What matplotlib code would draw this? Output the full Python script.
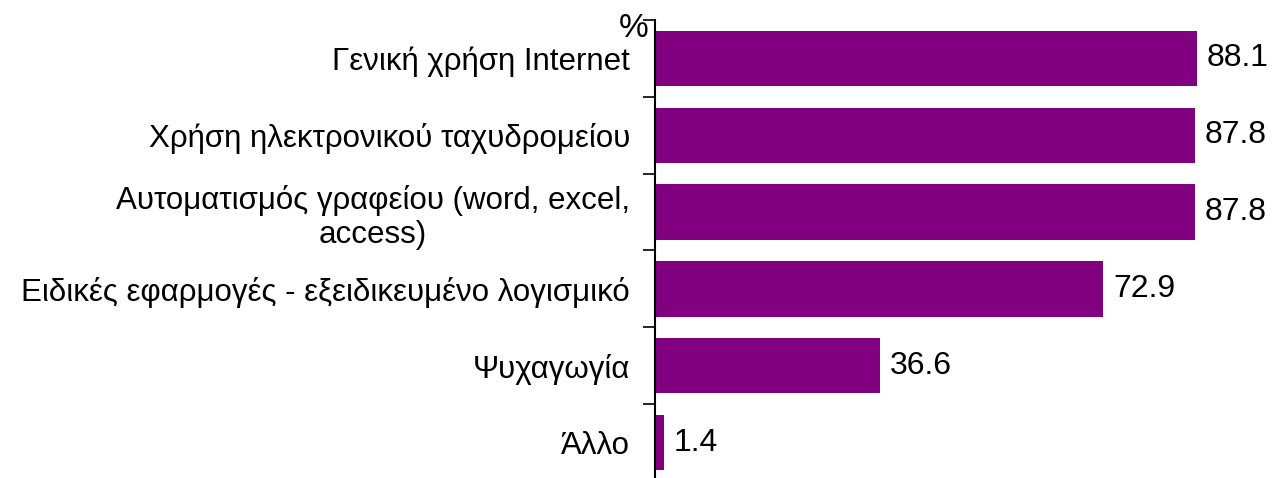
import matplotlib
matplotlib.use("Agg")
import matplotlib.pyplot as plt
import numpy as np

categories = [
    "Γενική χρήση Internet",
    "Χρήση ηλεκτρονικού ταχυδρομείου",
    "Αυτοματισμός γραφείου (word, excel,\naccess)",
    "Ειδικές εφαρμογές - εξειδικευμένο λογισμικό",
    "Ψυχαγωγία",
    "Άλλο",
]
values = [88.1, 87.8, 87.8, 72.9, 36.6, 1.4]
value_labels = ["88.1", "87.8", "87.8", "72.9", "36.6", "1.4"]
unit_label = "%"

plt.rcParams['font.family'] = ['Liberation Sans', 'DejaVu Sans']

W, H = 1274, 478
fig = plt.figure(figsize=(W / 100, H / 100), dpi=100)
ax_left = 655 / W
ax_right = 1270 / W
ax_top = 1 - 20 / H
ax_bottom = 1 - 481 / H
ax = fig.add_axes([ax_left, ax_bottom, ax_right - ax_left, ax_top - ax_bottom])

n = len(categories)
y = np.arange(n)
ax.barh(y, values, height=0.72, color="#800080", zorder=2)
ax.set_xlim(0, 100)
ax.set_ylim(n - 0.5, -0.5)

for yi, v, lab in zip(y, values, value_labels):
    ax.annotate(lab, (v, yi), xytext=(7, 0), textcoords="offset points",
                va="center", ha="left", fontsize=23, color="black")

ax.set_yticks(y)
ax.set_yticklabels(categories, fontsize=22.5, multialignment="center",
                   linespacing=1.15)
ax.tick_params(axis="y", which="major", length=0, pad=18)
ax.set_yticks(np.arange(-0.5, n, 1.0), minor=True)
ax.tick_params(axis="y", which="minor", length=9, width=1.2, direction="out")
ax.set_xticks([])

for s in ["top", "right", "bottom"]:
    ax.spines[s].set_visible(False)
ax.spines["left"].set_linewidth(1.5)

fig.text(649 / W, 1 - 37 / H, unit_label, ha="right", va="baseline", fontsize=24)

fig.savefig("out.png", dpi=100)
